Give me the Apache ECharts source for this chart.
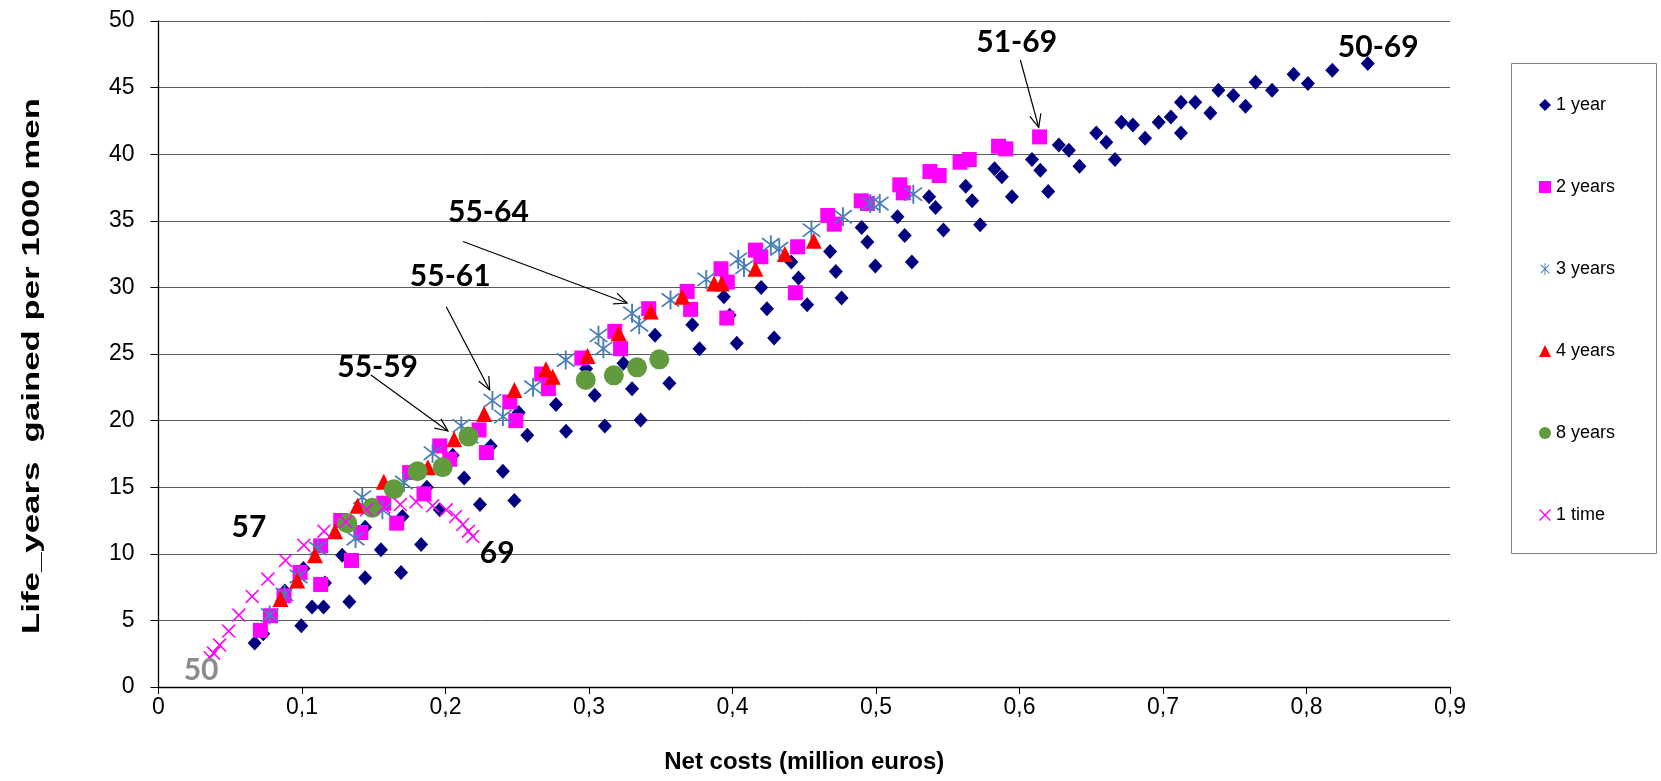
<!DOCTYPE html>
<html>
<head>
<meta charset="utf-8">
<script src="https://cdn.jsdelivr.net/npm/echarts@6/dist/echarts.min.js"></script>
<style>
html,body{margin:0;padding:0;background:#fff;}
#chart{width:1661px;height:781px;}
</style>
</head>
<body>
<div id="chart"></div>
<script>
// ---- data: [net costs (million euros), life-years gained per 1000 men] ----
const oneYear = [
  [0.067,3.3],[0.073,4.0],[0.0995,4.6],[0.107,6.0],[0.115,6.0],[0.133,6.4],[0.144,8.2],[0.169,8.6],
  [0.155,10.3],[0.183,10.7],[0.116,7.8],[0.088,7.2],[0.101,8.9],[0.128,9.9],[0.144,12.0],[0.170,12.8],
  [0.196,13.3],[0.187,15.0],[0.213,15.7],[0.224,13.7],[0.240,16.2],[0.248,14.0],[0.2315,18.1],[0.205,17.4],
  [0.251,20.6],[0.257,18.9],[0.284,19.2],[0.311,19.6],[0.336,20.05],[0.277,21.2],[0.304,21.9],[0.330,22.4],
  [0.356,22.8],[0.324,24.3],[0.346,26.4],[0.298,23.9],[0.372,27.2],[0.377,25.4],[0.394,29.3],[0.398,27.9],
  [0.403,25.8],[0.420,30.0],[0.424,28.4],[0.429,26.2],[0.441,31.9],[0.446,30.7],[0.452,28.7],[0.468,32.7],
  [0.472,31.2],[0.476,29.2],[0.490,34.5],[0.494,33.4],[0.4995,31.6],[0.515,35.3],[0.520,33.9],[0.525,31.9],
  [0.537,36.8],[0.5415,36.0],[0.547,34.3],[0.5625,37.6],[0.567,36.5],[0.5726,34.7],[0.5826,38.9],[0.5877,38.3],
  [0.5947,36.8],[0.6087,39.6],[0.6145,38.8],[0.620,37.2],[0.6274,40.7],[0.6344,40.3],[0.6418,39.1],[0.6535,41.6],
  [0.6605,40.9],[0.6665,39.6],[0.671,42.4],[0.679,42.2],[0.6875,41.2],[0.697,42.4],[0.7055,42.8],[0.7125,43.9],
  [0.7125,41.6],[0.7225,43.9],[0.733,43.1],[0.7386,44.8],[0.749,44.4],[0.7575,43.6],[0.7645,45.4],[0.776,44.8],
  [0.791,46.0],[0.801,45.3],[0.818,46.3],[0.8427,46.8]
];
const twoYears = [
  [0.071,4.25],[0.078,5.35],[0.0875,6.85],[0.0987,8.6],[0.113,7.7],[0.113,10.6],[0.1345,9.5],[0.127,12.5],
  [0.141,11.6],[0.157,13.8],[0.166,12.3],[0.175,16.1],[0.185,14.5],[0.196,18.1],[0.203,17.1],[0.2234,19.3],
  [0.2285,17.6],[0.2448,21.4],[0.249,20.0],[0.267,23.5],[0.2717,22.4],[0.295,24.7],[0.318,26.7],[0.322,25.4],
  [0.3416,28.4],[0.3684,29.7],[0.3708,28.35],[0.392,31.4],[0.3964,30.4],[0.396,27.7],[0.416,32.8],[0.4197,32.3],
  [0.4454,33.05],[0.4438,29.6],[0.4664,35.4],[0.471,34.75],[0.4897,36.5],[0.494,36.3],[0.5166,37.7],[0.519,37.1],
  [0.5376,38.7],[0.544,38.4],[0.5586,39.4],[0.565,39.6],[0.5854,40.6],[0.5905,40.4],[0.614,41.3]
];
const threeYears = [
  [0.0775,5.4],[0.0878,6.95],[0.0976,8.3],[0.111,10.4],[0.1373,11.15],[0.142,14.25],[0.156,13.3],[0.171,15.35],
  [0.191,17.55],[0.211,19.6],[0.2168,18.8],[0.2327,21.5],[0.240,20.3],[0.261,22.5],[0.2838,24.55],[0.3066,26.4],
  [0.310,25.4],[0.330,28.05],[0.335,27.2],[0.3568,29.05],[0.3817,30.6],[0.404,32.1],[0.408,31.5],[0.4267,33.2],
  [0.4326,32.9],[0.455,34.3],[0.477,35.3],[0.496,36.3],[0.5026,36.3],[0.526,37.0]
];
const fourYears = [
  [0.085,6.6],[0.0967,8.0],[0.109,9.9],[0.123,11.7],[0.1387,13.6],[0.157,15.4],[0.1877,16.5],[0.206,18.6],
  [0.2269,20.5],[0.248,22.3],[0.270,23.85],[0.2747,23.3],[0.299,24.85],[0.3207,26.55],[0.343,28.2],[0.365,29.3],
  [0.3872,30.3],[0.3925,30.3],[0.416,31.4],[0.4365,32.5],[0.4566,33.5]
];
const eightYears = [
  [0.1315,12.3],[0.149,13.45],[0.164,14.85],[0.1805,16.2],[0.198,16.5],[0.216,18.8],
  [0.2977,23.05],[0.3173,23.4],[0.3335,24.0],[0.349,24.6]
];
const oneTime = [
  [0.036,2.2],[0.0384,2.55],[0.0426,3.15],[0.0489,4.2],[0.056,5.4],[0.0653,6.8],[0.0762,8.1],[0.0885,9.5],
  [0.1013,10.65],[0.1153,11.7],[0.1305,12.4],[0.145,13.3],[0.157,13.5],[0.1685,13.7],[0.1795,13.9],[0.191,13.6],
  [0.2005,13.3],[0.207,12.8],[0.212,12.2],[0.216,11.7],[0.219,11.3]
];
const seriesNames = ['1 year','2 years','3 years','4 years','8 years','1 time'];
const xTicks = [0,0.1,0.2,0.3,0.4,0.5,0.6,0.7,0.8,0.9];
const yTicks = [0,5,10,15,20,25,30,35,40,45,50];
const yTitle = 'Life_years  gained per 1000 men';
const xTitle = 'Net costs (million euros)';

// ---- annotation texts (placed in data space) ----
const notes = [
  {text:'51-69', at:[0.598,48.4]},
  {text:'50-69', at:[0.850,48.0]},
  {text:'55-64', at:[0.2299,35.67]},
  {text:'55-61', at:[0.2033,30.8]},
  {text:'55-59', at:[0.1527,23.99]},
  {text:'57', at:[0.063,12.0]},
  {text:'69', at:[0.236,10.0]},
  {text:'50', at:[0.0297,1.24], gray:true}
];
const arrows = [
  {from:[0.6006,47.07], to:[0.6134,42.02]},
  {from:[0.2122,33.45], to:[0.3265,28.83]},
  {from:[0.2005,28.55], to:[0.2308,22.3]},
  {from:[0.148,23.42],  to:[0.2017,19.22]}
];

const X_PATH = 'path://M0,0.8 L0.8,0 L10,9.2 L9.2,10 Z M9.2,0 L10,0.8 L0.8,10 L0,9.2 Z';
const STAR_PATH = 'path://M0,0.75 L0.75,0 L10,9.25 L9.25,10 Z M9.25,0 L10,0.75 L0.75,10 L0,9.25 Z M4.5,-1.6 L5.5,-1.6 L5.5,11.6 L4.5,11.6 Z';

const fmt = v => String(Math.round(v*10)/10).replace('.', ',');

const chart = echarts.init(document.getElementById('chart'), null, {renderer:'canvas'});
const sym = [
  {symbol:'diamond', size:[14,15], color:'#000080'},
  {symbol:'rect', size:15, color:'#FF00FF'},
  {symbol:STAR_PATH, size:19, color:'#4A7EBB'},
  {symbol:'triangle', size:16, color:'#FF0000'},
  {symbol:'circle', size:20, color:'#629B3E'},
  {symbol:X_PATH, size:14, color:'#FF00FF'}
];
const dataSets = [oneYear, twoYears, threeYears, fourYears, eightYears, oneTime];

const option = {
  animation:false,
  backgroundColor:'#ffffff',
  grid:{left:158.5, right:211, top:21, bottom:94, containLabel:false},
  xAxis:{
    type:'value', min:xTicks[0], max:xTicks[xTicks.length-1], interval:0.1,
    name:xTitle, nameLocation:'middle', nameGap:63,
    nameTextStyle:{fontFamily:'Liberation Sans, Arial', fontWeight:'bold', fontSize:24, color:'#000'},
    axisLine:{show:true, onZero:false, lineStyle:{color:'#000', width:1.3}},
    axisTick:{show:true, inside:false, length:7, lineStyle:{color:'#000'}},
    axisLabel:{fontFamily:'Liberation Sans, Arial', fontSize:23, color:'#000', margin:9, formatter:fmt},
    splitLine:{show:false}
  },
  yAxis:{
    type:'value', min:yTicks[0], max:yTicks[yTicks.length-1], interval:5,
    axisLine:{show:true, onZero:false, lineStyle:{color:'#000', width:1.3}},
    axisTick:{show:true, inside:false, length:8, lineStyle:{color:'#000'}},
    axisLabel:{fontFamily:'Liberation Sans, Arial', fontSize:23, color:'#000', margin:24, formatter:fmt},
    splitLine:{show:true, lineStyle:{color:'#5a5a5a', width:1}}
  },
  legend:{
    orient:'vertical', left:1534, top:91, itemGap:64, itemWidth:12, itemHeight:12,
    textStyle:{fontFamily:'Liberation Sans, Arial', fontSize:18, color:'#000', lineHeight:18},
    data:seriesNames, selectedMode:false
  },
  series: dataSets.map((d,i)=>({
    name:seriesNames[i], type:'scatter', data:d,
    symbol:sym[i].symbol, symbolSize:sym[i].size,
    itemStyle:{color:sym[i].color, opacity:1},
    emphasis:{disabled:true}
  }))
};
chart.setOption(option);

function buildGraphics(){
  const g = [];
  g.push({type:'rect', shape:{x:1511.5, y:63.5, width:145, height:490}, style:{fill:'none', stroke:'#7f7f7f', lineWidth:1}, z:1});
  g.push({type:'text', x:32, y:366, rotation:Math.PI/2, scaleX:1.45, scaleY:1, z:10, style:{
    text:yTitle, fontFamily:'Liberation Sans, Arial', fontWeight:'bold', fontSize:24, fill:'#000',
    align:'center', verticalAlign:'middle'}});
  notes.forEach(n=>{
    const p = chart.convertToPixel({gridIndex:0}, n.at);
    g.push({type:'text', x:p[0], y:p[1], z:10, style:{
      text:n.text, fontFamily:'Lato, Open Sans, sans-serif', fontWeight:'bold', fontSize:30,
      fill:n.gray?'#8c8c8c':'#000', align:'center', verticalAlign:'middle'}});
  });
  arrows.forEach(a=>{
    const p1 = chart.convertToPixel({gridIndex:0}, a.from);
    const p2 = chart.convertToPixel({gridIndex:0}, a.to);
    const ang = Math.atan2(p2[1]-p1[1], p2[0]-p1[0]);
    const L = 14, w = 0.42;
    const h1 = [p2[0]-L*Math.cos(ang-w), p2[1]-L*Math.sin(ang-w)];
    const h2 = [p2[0]-L*Math.cos(ang+w), p2[1]-L*Math.sin(ang+w)];
    g.push({type:'line', z:10, shape:{x1:p1[0],y1:p1[1],x2:p2[0],y2:p2[1]}, style:{stroke:'#000', lineWidth:1.2}});
    g.push({type:'polyline', z:10, shape:{points:[h1,p2,h2]}, style:{stroke:'#000', lineWidth:1.2, fill:null}});
  });
  chart.setOption({graphic:g});
}
buildGraphics();
</script>
</body>
</html>
